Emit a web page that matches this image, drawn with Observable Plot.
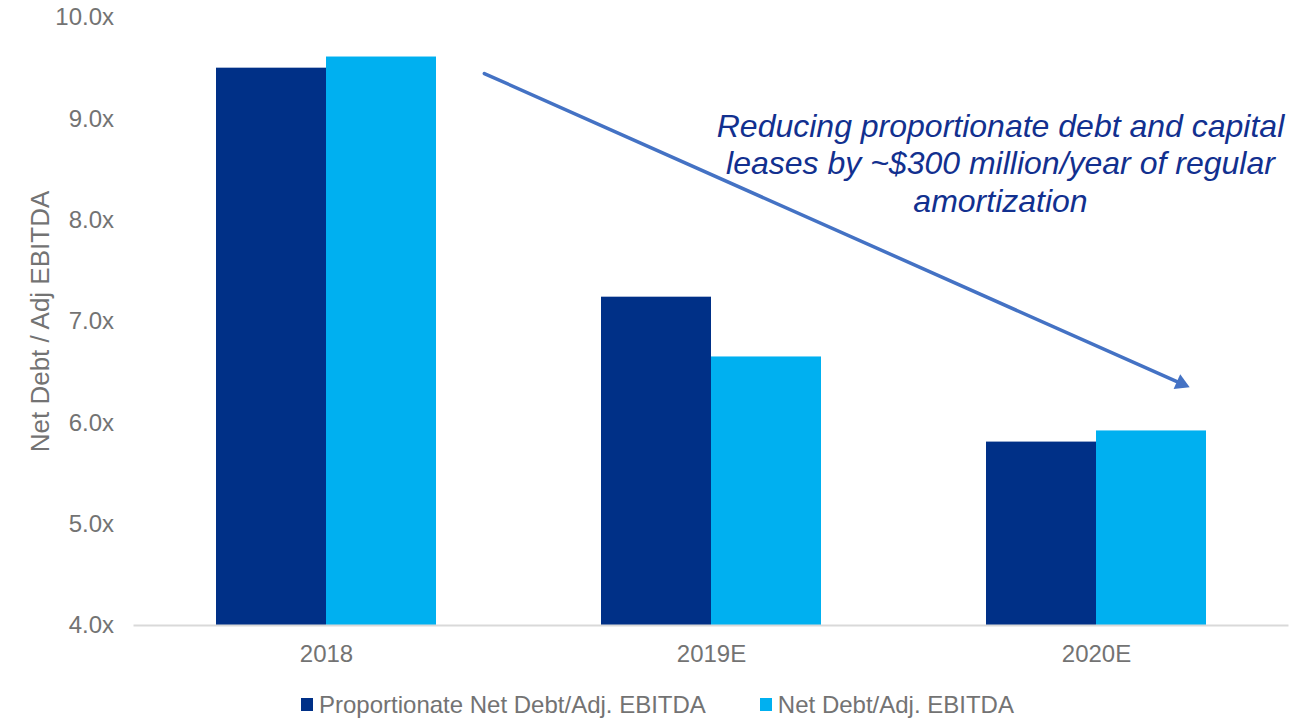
<!DOCTYPE html>
<html><head><meta charset="utf-8">
<script src="https://cdn.jsdelivr.net/npm/d3@7"></script>
<script src="https://cdn.jsdelivr.net/npm/@observablehq/plot@0.6"></script>
<style>
body{margin:0;background:#fff;font-family:"Liberation Sans",Arial,sans-serif;}
#chart{position:relative;width:1291px;height:719px;overflow:hidden;}
#chart svg{display:block;}
.legend{position:absolute;left:301px;top:692px;display:flex;align-items:center;font-size:24px;color:#737373;line-height:25px;white-space:nowrap;}
.item{display:flex;align-items:center;margin-right:54px;}
.sw{width:12px;height:13px;margin-right:6px;}
</style></head><body><div id="chart"></div>
<script>
const years = ["2018", "2019E", "2020E"];
const seriesNames = ["Proportionate Net Debt/Adj. EBITDA", "Net Debt/Adj. EBITDA"];
const proportionateValues = [9.50, 7.24, 5.81];
const netDebtValues = [9.61, 6.65, 5.92];
const yTicks = [4, 5, 6, 7, 8, 9, 10];
const yLabel = "Net Debt / Adj EBITDA";
const annotationLines = ["Reducing proportionate debt and capital", "leases by ~$300 million/year of regular", "amortization"];

const colors = ["#003087", "#00b0f0"];
const gray = "#737373";
const arrowColor = "#4472c4";
const barW = 0.2857;

const rows = years.flatMap((year, i) => [
  {i, year, k: -1, series: seriesNames[0], value: proportionateValues[i]},
  {i, year, k: 0, series: seriesNames[1], value: netDebtValues[i]}
]);

// annotation anchors in data space
const arrowSpec = {x1: 0.41, y1: 9.447, x2: 2.242, y2: 6.35};
const noteSpec = {x: 1.7506, y: 8.569};

const plot = Plot.plot({
  width: 1291,
  height: 675,
  marginTop: 17,
  marginBottom: 50,
  marginLeft: 133.5,
  marginRight: 2.5,
  style: {background: "#fff", color: gray, fontFamily: '"Liberation Sans", Arial, sans-serif'},
  x: {type: "linear", domain: [-0.5, 2.5], axis: null},
  y: {domain: [4, 10], axis: null},
  color: {domain: seriesNames, range: colors},
  marks: [
    Plot.rectY(rows, {x1: d => d.i + d.k * barW, x2: d => d.i + (d.k + 1) * barW, y1: 4, y2: "value", fill: "series"}),
    Plot.ruleY([4], {stroke: "#d9d9d9", strokeWidth: 2}),
    Plot.axisY({ticks: yTicks, tickFormat: d => d.toFixed(1) + "x", tickSize: 0, tickPadding: 20, fontSize: 24, label: null}),
    Plot.axisX({ticks: [0, 1, 2], tickFormat: i => years[i], tickSize: 0, tickPadding: 19, fontSize: 24, label: null}),
    Plot.text([yLabel], {text: d => d, frameAnchor: "left", textAnchor: "middle", rotate: -90, dx: -93.5, fontSize: 26, fill: gray}),
    Plot.arrow([arrowSpec], {x1: "x1", y1: "y1", x2: "x2", y2: "y2", stroke: arrowColor, strokeWidth: 3.5, headLength: 0, insetEnd: 9}),
    Plot.dot([arrowSpec], {x: "x2", y: "y2", symbol: "triangle", r: 6, rotate: 114, fill: arrowColor, stroke: "none", dx: -8.5, dy: -3.8}),
    Plot.text([annotationLines.join("\n")], {x: noteSpec.x, y: noteSpec.y, text: d => d, fontSize: 32, fontStyle: "italic", fill: "#12308f", lineHeight: 1.17, textAnchor: "middle"})
  ]
});

const chart = document.getElementById("chart");
chart.appendChild(plot);

const legend = document.createElement("div");
legend.className = "legend";
seriesNames.forEach((name, j) => {
  const item = document.createElement("div");
  item.className = "item";
  const sw = document.createElement("span");
  sw.className = "sw";
  sw.style.background = colors[j];
  const label = document.createElement("span");
  label.textContent = name;
  item.appendChild(sw);
  item.appendChild(label);
  legend.appendChild(item);
});
chart.appendChild(legend);
</script>
</body></html>
